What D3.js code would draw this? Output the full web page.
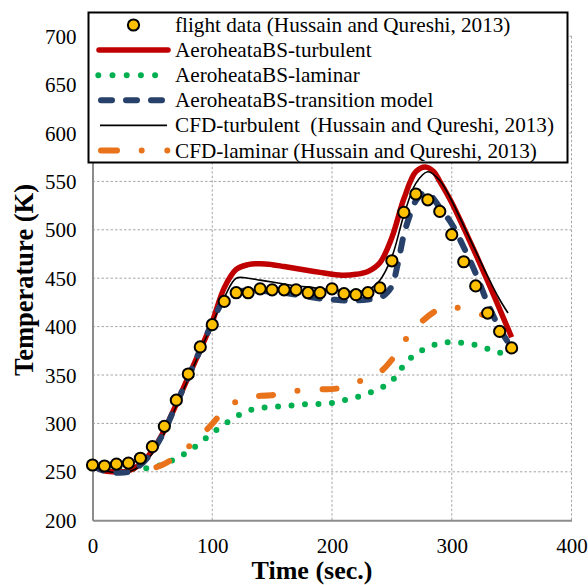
<!DOCTYPE html>
<html>
<head>
<meta charset="utf-8">
<script src="https://cdn.jsdelivr.net/npm/d3@7"></script>
<style>
  html, body { margin: 0; padding: 0; background: #fff; }
  svg { display: block; }
  text { font-family: "Liberation Serif", "Times New Roman", serif; fill: #000; }
</style>
</head>
<body>
<svg id="chart" width="588" height="585" font-family="Liberation Serif"></svg>
<script>
// ---------- data ----------
const xTicks = [0, 100, 200, 300, 400];
const yTicks = [200, 250, 300, 350, 400, 450, 500, 550, 600, 650, 700];

const flightTime = [0,10,20,30,40,50,60,70,80,90,100,110,120,130,140,150,160,170,180,190,200,210,220,230,240,250,260,270,280,290,300,310,320,330,340,350];
const flightTemp = [257,256,258,259,264,276,297,324,351,379,402,426,435,435,439,438,438,438,435,435,439,434,433,435,440,468,518,537,531,519,495,467,442,414,395,378];

const turbTime = [0,10,20,30,40,50,60,70,80,90,100,110,120,130,140,150,160,170,180,190,200,210,220,230,240,250,260,270,278,285,290,300,310,320,330,340,350];
const turbTemp = [256,251,250,251,258,272,293,320,348,376,405,440,459,464,465,464,462,460,458,456,454,453,454,457,466,492,532,560,565,560,550,528,502,475,447,418,389];

const lamTime = [0,10,20,30,40,50,60,70,80,90,100,110,120,130,140,150,160,170,180,190,200,210,220,230,240,250,260,270,280,290,300,310,320,330,340,348];
const lamTemp = [256,254,253,253,253,255,258,264,271,280,290,299,307,313,316,317,318,319,320,320,321,324,327,331,336,344,360,372,378,383,384,383,381,377,373,371];

const transTime = [0,10,20,30,40,50,60,70,80,90,100,110,120,130,140,150,160,170,180,190,200,210,220,230,240,245,250,255,260,265,270,275,280,290,300,310,320,330,340,350];
const transTemp = [256,251,249,250,257,271,292,320,348,376,404,428,436,437,437,436,435,433,431,429,428,427,427,428,430,434,442,465,495,515,530,537,538,523,506,482,455,424,398,378];

const cfdTurbTime = [0,10,20,30,40,50,60,70,80,90,100,110,120,130,140,150,160,170,180,190,200,210,220,230,240,250,260,270,280,290,300,310,320,330,340,347];
const cfdTurbTemp = [255,251,249,250,256,269,290,318,346,375,403,430,450,450,448,446,444,442,441,439,438,437,436,438,448,472,515,548,560,551,530,504,478,452,428,414];

const cfdLamTime = [0,18,37,50,58,70,87,101,112,129,149,165,185,204,219,239,252,261,274,285,292,299,306,315,326];
const cfdLamTemp = [255,255,254,254,257,266,283,301,316,327,329,333,335,336,342,352,369,386,404,415,419,421,419,416,412];

const legendLabels = [
  "flight data (Hussain and Qureshi, 2013)",
  "AeroheataBS-turbulent",
  "AeroheataBS-laminar",
  "AeroheataBS-transition model",
  "CFD-turbulent  (Hussain and Qureshi, 2013)",
  "CFD-laminar (Hussain and Qureshi, 2013)"
];

// ---------- layout ----------
const FONT = "'Liberation Serif', 'Times New Roman', serif";
const svg = d3.select("#chart");
const pLeft = 92.5, pRight = 571.5, pTop = 36.2, pBottom = 520.2;
const x = d3.scaleLinear().domain([0, 400]).range([pLeft, pRight]);
const y = d3.scaleLinear().domain([200, 700]).range([pBottom, pTop]);

const colors = {
  flight: "#FFC000",
  turb: "#C00000",
  lam: "#00B050",
  trans: "#27416A",
  cfdTurb: "#000000",
  cfdLam: "#E8731A"
};

// grid
const grid = svg.append("g");
grid.selectAll("line.h").data(yTicks.filter(d => d > 200)).enter().append("line")
  .attr("x1", pLeft).attr("x2", pRight)
  .attr("y1", d => y(d)).attr("y2", d => y(d))
  .attr("stroke", "#a6a6a6").attr("stroke-width", 1).attr("stroke-dasharray", "2.5 2");
grid.selectAll("line.v").data(xTicks.filter(d => d > 0)).enter().append("line")
  .attr("y1", pTop).attr("y2", pBottom)
  .attr("x1", d => x(d)).attr("x2", d => x(d))
  .attr("stroke", "#a6a6a6").attr("stroke-width", 1).attr("stroke-dasharray", "2.5 2");

// axes
const xAxis = d3.axisBottom(x).tickValues(xTicks).tickSize(0).tickPadding(0);
const yAxis = d3.axisLeft(y).tickValues(yTicks).tickSize(0).tickPadding(0);
const gx = svg.append("g").attr("transform", `translate(0,${pBottom})`).call(xAxis);
const gy = svg.append("g").attr("transform", `translate(${pLeft},0)`).call(yAxis);
[gx, gy].forEach(g => {
  g.attr("font-family", FONT).attr("font-size", 21);
  g.select(".domain").attr("stroke", "#8c8c8c").attr("stroke-width", 2);
  g.selectAll("text").style("font-family", FONT).style("font-size", "21px").attr("fill", "#000");
});
gx.selectAll("text").attr("dy", null).attr("y", 33);
gy.selectAll("text").attr("x", -16).attr("dy", "0.34em");

// axis titles
svg.append("text").attr("x", 312).attr("y", 579)
  .attr("text-anchor", "middle").style("font-family", FONT).style("font-size", "26px").style("font-weight", "bold")
  .text("Time (sec.)");
svg.append("text").attr("transform", `translate(33,${280}) rotate(-90)`)
  .attr("text-anchor", "middle").style("font-family", FONT).style("font-size", "26.5px").style("font-weight", "bold")
  .text("Temperature (K)");

// series
const lineGen = d3.line().x(d => x(d[0])).y(d => y(d[1])).curve(d3.curveCatmullRom.alpha(0.5));
const zip = (a, b) => a.map((v, i) => [v, b[i]]);
const plot = svg.append("g");

plot.append("path").datum(zip(lamTime, lamTemp)).attr("d", lineGen)
  .attr("fill", "none").attr("stroke", colors.lam).attr("stroke-width", 6)
  .attr("stroke-linecap", "round").attr("stroke-dasharray", "0 13.5");

plot.append("path").datum(zip(cfdLamTime, cfdLamTemp)).attr("d", lineGen)
  .attr("fill", "none").attr("stroke", colors.cfdLam).attr("stroke-width", 6)
  .attr("stroke-linecap", "round").attr("stroke-dasharray", "14 25 0 25");

plot.append("path").datum(zip(turbTime, turbTemp)).attr("d", lineGen)
  .attr("fill", "none").attr("stroke", colors.turb).attr("stroke-width", 5.5);

plot.append("path").datum(zip(cfdTurbTime, cfdTurbTemp)).attr("d", lineGen)
  .attr("fill", "none").attr("stroke", colors.cfdTurb).attr("stroke-width", 1.6);

plot.append("path").datum(zip(transTime, transTemp)).attr("d", lineGen)
  .attr("fill", "none").attr("stroke", colors.trans).attr("stroke-width", 6)
  .attr("stroke-linecap", "round").attr("stroke-dasharray", "11 14");

plot.selectAll("circle.f").data(zip(flightTime, flightTemp)).enter().append("circle")
  .attr("cx", d => x(d[0])).attr("cy", d => y(d[1])).attr("r", 5.6)
  .attr("fill", colors.flight).attr("stroke", "#000").attr("stroke-width", 2);

// legend
const lg = svg.append("g");
lg.append("rect").attr("x", 88.5).attr("y", 12.5).attr("width", 479).attr("height", 150)
  .attr("fill", "#fff").attr("stroke", "#000").attr("stroke-width", 2);
const rowY = i => 25 + i * 25.1;
lg.append("circle").attr("cx", 133.5).attr("cy", rowY(0)).attr("r", 5.6)
  .attr("fill", colors.flight).attr("stroke", "#000").attr("stroke-width", 2);
lg.append("line").attr("x1", 99).attr("x2", 168).attr("y1", rowY(1)).attr("y2", rowY(1))
  .attr("stroke", colors.turb).attr("stroke-width", 5.5).attr("stroke-linecap", "round");
lg.append("line").attr("x1", 98.3).attr("x2", 156).attr("y1", rowY(2)).attr("y2", rowY(2))
  .attr("stroke", colors.lam).attr("stroke-width", 6).attr("stroke-linecap", "round").attr("stroke-dasharray", "0 14.2");
lg.append("line").attr("x1", 101).attr("x2", 162).attr("y1", rowY(3)).attr("y2", rowY(3))
  .attr("stroke", colors.trans).attr("stroke-width", 6).attr("stroke-linecap", "round").attr("stroke-dasharray", "11 14");
lg.append("line").attr("x1", 100).attr("x2", 167).attr("y1", rowY(4)).attr("y2", rowY(4))
  .attr("stroke", colors.cfdTurb).attr("stroke-width", 1.6);
lg.append("line").attr("x1", 101).attr("x2", 167.3).attr("y1", rowY(5)).attr("y2", rowY(5))
  .attr("stroke", colors.cfdLam).attr("stroke-width", 6).attr("stroke-linecap", "round").attr("stroke-dasharray", "16 24.7 0 25.6");
lg.selectAll("text.l").data(legendLabels).enter().append("text")
  .attr("x", 175).attr("y", (d, i) => rowY(i) + 7)
  .style("font-family", FONT).style("font-size", "21.2px").attr("xml:space", "preserve").style("white-space", "pre")
  .text(d => d);
</script>
</body>
</html>
